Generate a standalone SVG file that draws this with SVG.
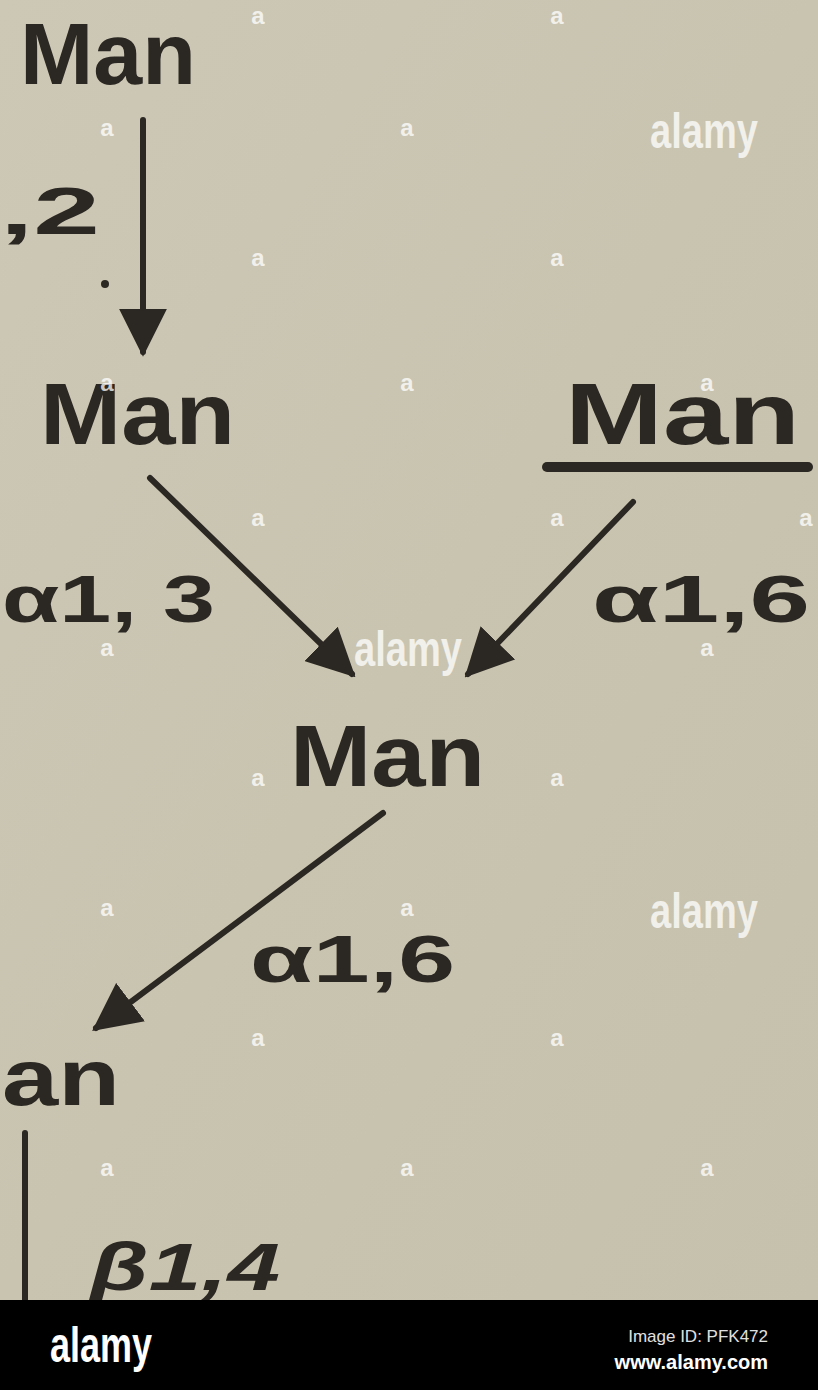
<svg xmlns="http://www.w3.org/2000/svg" width="818" height="1390" viewBox="0 0 818 1390">
<defs>
<style>
.sugar{font-family:"Liberation Sans",Arial,sans-serif;font-weight:bold;fill:#2b2722}
.lbl{font-family:"Liberation Sans",Arial,sans-serif;font-weight:bold;fill:#2b2722;font-size:66px}
.edge{stroke:#2b2722;stroke-width:6;fill:none;stroke-linecap:round}
.wm{font-family:"Liberation Sans",Arial,sans-serif;font-weight:bold;fill:#ffffff;fill-opacity:0.75}
</style>
<marker id="ah" viewBox="0 0 10 10" refX="9" refY="5" markerWidth="8" markerHeight="8" markerUnits="strokeWidth" orient="auto">
<path d="M0,0 L10,5 L0,10 Z" fill="#2b2722"/>
</marker>
<linearGradient id="bg" x1="0" y1="0" x2="1" y2="1">
<stop offset="0" stop-color="#cdc8b6"/>
<stop offset="0.5" stop-color="#c9c4b0"/>
<stop offset="1" stop-color="#c6c1ac"/>
</linearGradient>
</defs>
<rect x="0" y="0" width="818" height="1300" fill="url(#bg)"/>

<g id="connectors">
<line class="edge" x1="143" y1="120" x2="143" y2="352" marker-end="url(#ah)"/>
<line class="edge" x1="150" y1="478" x2="352" y2="674" marker-end="url(#ah)"/>
<line class="edge" x1="633" y1="502" x2="468" y2="674" marker-end="url(#ah)"/>
<line class="edge" x1="383" y1="813" x2="96" y2="1028" marker-end="url(#ah)"/>
<line class="edge" x1="25" y1="1133" x2="25" y2="1300" stroke-width="9"/>
<circle cx="105" cy="284" r="4" fill="#2b2722"/>
</g>

<g id="node-man-top"><text class="sugar" x="20" y="84" font-size="88" textLength="176" lengthAdjust="spacingAndGlyphs">Man</text></g>
<g id="node-man-left"><text class="sugar" x="40" y="444" font-size="88" textLength="195" lengthAdjust="spacingAndGlyphs">Man</text></g>
<g id="node-man-right">
<text class="sugar" x="565" y="444" font-size="88" textLength="235" lengthAdjust="spacingAndGlyphs">Man</text>
<line x1="547" y1="467" x2="808" y2="467" stroke="#2b2722" stroke-width="10" stroke-linecap="round"/>
</g>
<g id="node-man-center"><text class="sugar" x="290" y="786" font-size="88" textLength="195" lengthAdjust="spacingAndGlyphs">Man</text></g>
<g id="node-man-bottom"><text class="sugar" x="2" y="1105" font-size="80" textLength="118" lengthAdjust="spacingAndGlyphs">an</text></g>

<g id="labels">
<text class="lbl" x="0" y="234" textLength="100" lengthAdjust="spacingAndGlyphs">,2</text>
<text class="lbl" x="2" y="622" textLength="213" lengthAdjust="spacingAndGlyphs">α1, 3</text>
<text class="lbl" x="592" y="622" textLength="218" lengthAdjust="spacingAndGlyphs">α1,6</text>
<text class="lbl" x="250" y="982" textLength="205" lengthAdjust="spacingAndGlyphs">α1,6</text>
<text class="lbl" x="90" y="1290" font-style="italic" font-weight="normal" textLength="190" lengthAdjust="spacingAndGlyphs">β1,4</text>
</g>

<g id="watermarks">
<text class="wm" x="704" y="148" font-size="50" text-anchor="middle" textLength="108" lengthAdjust="spacingAndGlyphs">alamy</text>
<text class="wm" x="408" y="666" font-size="50" text-anchor="middle" textLength="108" lengthAdjust="spacingAndGlyphs">alamy</text>
<text class="wm" x="704" y="928" font-size="50" text-anchor="middle" textLength="108" lengthAdjust="spacingAndGlyphs">alamy</text>
<g font-size="24" text-anchor="middle">
<text class="wm" x="258" y="24">a</text><text class="wm" x="557" y="24">a</text>
<text class="wm" x="107" y="136">a</text><text class="wm" x="407" y="136">a</text>
<text class="wm" x="258" y="266">a</text><text class="wm" x="557" y="266">a</text>
<text class="wm" x="107" y="391">a</text><text class="wm" x="407" y="391">a</text><text class="wm" x="707" y="391">a</text>
<text class="wm" x="258" y="526">a</text><text class="wm" x="557" y="526">a</text><text class="wm" x="806" y="526">a</text>
<text class="wm" x="107" y="656">a</text><text class="wm" x="707" y="656">a</text>
<text class="wm" x="258" y="786">a</text><text class="wm" x="557" y="786">a</text>
<text class="wm" x="107" y="916">a</text><text class="wm" x="407" y="916">a</text>
<text class="wm" x="258" y="1046">a</text><text class="wm" x="557" y="1046">a</text>
<text class="wm" x="107" y="1176">a</text><text class="wm" x="407" y="1176">a</text><text class="wm" x="707" y="1176">a</text>
</g>
</g>

<g id="footer">
<rect x="0" y="1300" width="818" height="90" fill="#000"/>
<text x="50" y="1362" font-family="Liberation Sans,Arial,sans-serif" font-weight="bold" font-size="50" fill="#fff" textLength="102" lengthAdjust="spacingAndGlyphs">alamy</text>
<text x="768" y="1342" font-family="Liberation Sans,Arial,sans-serif" font-size="17" fill="#e0e0e0" text-anchor="end">Image ID: PFK472</text>
<text x="768" y="1369" font-family="Liberation Sans,Arial,sans-serif" font-weight="bold" font-size="20" fill="#ffffff" text-anchor="end">www.alamy.com</text>
</g>
</svg>
